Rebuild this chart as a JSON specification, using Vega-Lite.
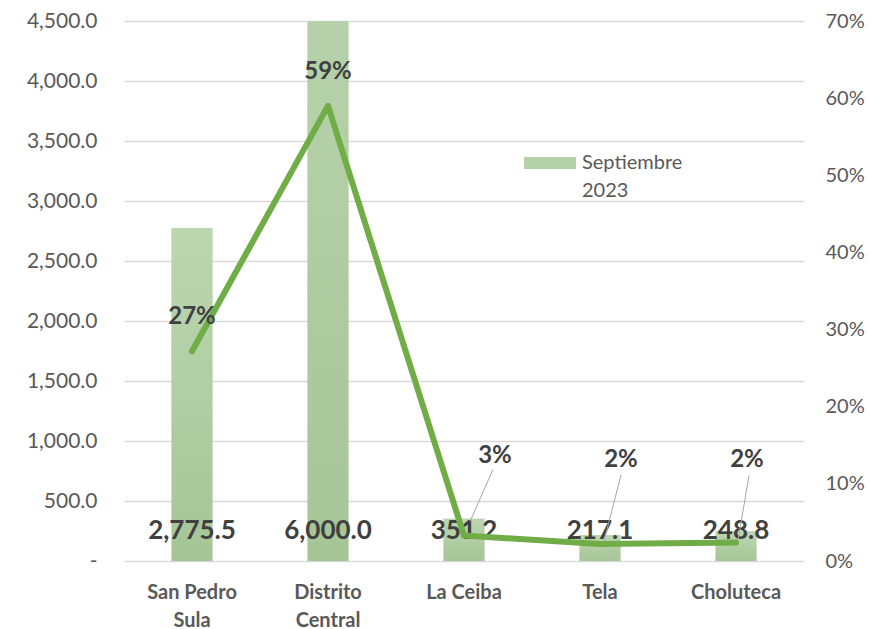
{
  "$schema": "https://vega.github.io/schema/vega-lite/v6.json",
  "width": 680,
  "height": 540,
  "autosize": {"type": "none"},
  "padding": {"left": 124, "top": 21, "right": 67, "bottom": 68},
  "background": "white",
  "config": {
    "view": {"stroke": null},
    "font": "Lato",
    "axis": {"labelFont": "Lato", "labelColor": "#595959", "domain": false, "ticks": false, "title": null}
  },
  "data": {
    "values": [
      {"city": "San Pedro Sula", "value": 2775.5, "pct": 0.272},
      {"city": "Distrito Central", "value": 6000.0, "pct": 0.59},
      {"city": "La Ceiba", "value": 351.2, "pct": 0.033},
      {"city": "Tela", "value": 217.1, "pct": 0.022},
      {"city": "Choluteca", "value": 248.8, "pct": 0.024}
    ]
  },
  "encoding": {
    "x": {
      "field": "city",
      "type": "nominal",
      "sort": null,
      "scale": {"paddingInner": 0.7, "paddingOuter": 0.35},
      "axis": {
        "labelAngle": 0,
        "labelFontSize": 20,
        "labelFontWeight": "bold",
        "labelPadding": 21,
        "labelLineHeight": 28,
        "labelBaseline": "top",
        "labelExpr": "datum.value == 'San Pedro Sula' ? ['San Pedro', 'Sula'] : datum.value == 'Distrito Central' ? ['Distrito', 'Central'] : datum.value"
      }
    }
  },
  "layer": [
    {
      "encoding": {
        "y": {
          "type": "quantitative",
          "scale": {"domain": [0, 4500], "nice": false},
          "axis": {
            "orient": "left",
            "values": [0, 500, 1000, 1500, 2000, 2500, 3000, 3500, 4000, 4500],
            "grid": true,
            "gridColor": "#d9d9d9",
            "gridWidth": 1.5,
            "labelFontSize": 21,
            "labelPadding": 27,
            "labelExpr": "datum.value == 0 ? '-\u00a0\u00a0\u00a0' : format(datum.value, ',.1f')"
          }
        }
      },
      "layer": [
        {
          "mark": {"type": "bar", "clip": true},
          "encoding": {
            "y": {"field": "value"},
            "color": {
              "datum": "Septiembre 2023",
              "scale": {"range": ["#b5d1a7"]},
              "legend": {
                "orient": "none",
                "legendX": 400,
                "legendY": 116,
                "title": null,
                "symbolType": "M-1,-0.23L1,-0.23L1,0.23L-1,0.23Z",
                "symbolSize": 2704,
                "symbolStrokeWidth": 0,
                "labelFont": "Lato",
                "labelFontSize": 20,
                "labelColor": "#595959",
                "labelLimit": 300,
                "labelOffset": 6,
                "labelBaseline": "middle",
                "labelExpr": "['Septiembre', '2023']",
                "encode": {"labels": {"update": {"lineHeight": {"value": 28}}}}
              }
            }
          }
        },
        {
          "mark": {"type": "bar", "clip": true, "color": {"gradient": "linear", "x1": 0, "y1": 0, "x2": 0, "y2": 1, "stops": [{"offset": 0, "color": "#bcd6b0"}, {"offset": 1, "color": "#a6c597"}]}},
          "encoding": {"y": {"field": "value"}}
        },
        {
          "mark": {"type": "text", "fontSize": 26, "fontWeight": "bold", "color": "#404040", "baseline": "middle", "dy": -30},
          "encoding": {
            "y": {"datum": 0},
            "text": {"field": "value", "type": "quantitative", "format": ",.1f"}
          }
        }
      ]
    },
    {
      "encoding": {
        "y": {
          "field": "pct",
          "type": "quantitative",
          "scale": {"domain": [0, 0.7], "nice": false},
          "axis": {
            "orient": "right",
            "values": [0, 0.1, 0.2, 0.3, 0.4, 0.5, 0.6, 0.7],
            "grid": false,
            "format": ".0%",
            "labelFontSize": 20,
            "labelPadding": 21
          }
        }
      },
      "layer": [
        {
          "mark": {"type": "line", "color": "#70ad47", "strokeWidth": 6, "strokeJoin": "round", "strokeCap": "round"}
        },
        {
          "transform": [{"filter": "datum.pct > 0.1"}],
          "mark": {"type": "text", "fontSize": 24, "fontWeight": "bold", "color": "#404040", "baseline": "middle", "dy": -34},
          "encoding": {"text": {"field": "pct", "type": "quantitative", "format": ".0%"}}
        },
        {
          "transform": [{"filter": "datum.city == 'La Ceiba'"}],
          "mark": {"type": "rule", "color": "#a6a6a6", "strokeWidth": 1, "xOffset": 6, "yOffset": -14, "x2Offset": 29, "y2Offset": -66},
          "encoding": {"x2": {"field": "city"}, "y2": {"field": "pct"}}
        },
        {
          "transform": [{"filter": "datum.city == 'Tela'"}],
          "mark": {"type": "rule", "color": "#a6a6a6", "strokeWidth": 1, "xOffset": 4, "yOffset": -3, "x2Offset": 21, "y2Offset": -69},
          "encoding": {"x2": {"field": "city"}, "y2": {"field": "pct"}}
        },
        {
          "transform": [{"filter": "datum.city == 'Choluteca'"}],
          "mark": {"type": "rule", "color": "#a6a6a6", "strokeWidth": 1, "xOffset": 2, "yOffset": -2, "x2Offset": 13, "y2Offset": -67},
          "encoding": {"x2": {"field": "city"}, "y2": {"field": "pct"}}
        },
        {
          "transform": [{"filter": "datum.city == 'La Ceiba'"}],
          "mark": {"type": "text", "fontSize": 24, "fontWeight": "bold", "color": "#404040", "baseline": "middle", "dx": 31, "dy": -80},
          "encoding": {"text": {"field": "pct", "type": "quantitative", "format": ".0%"}}
        },
        {
          "transform": [{"filter": "datum.city == 'Tela'"}],
          "mark": {"type": "text", "fontSize": 24, "fontWeight": "bold", "color": "#404040", "baseline": "middle", "dx": 21, "dy": -84},
          "encoding": {"text": {"field": "pct", "type": "quantitative", "format": ".0%"}}
        },
        {
          "transform": [{"filter": "datum.city == 'Choluteca'"}],
          "mark": {"type": "text", "fontSize": 24, "fontWeight": "bold", "color": "#404040", "baseline": "middle", "dx": 11, "dy": -82},
          "encoding": {"text": {"field": "pct", "type": "quantitative", "format": ".0%"}}
        }
      ]
    }
  ],
  "resolve": {"scale": {"y": "independent"}}
}
